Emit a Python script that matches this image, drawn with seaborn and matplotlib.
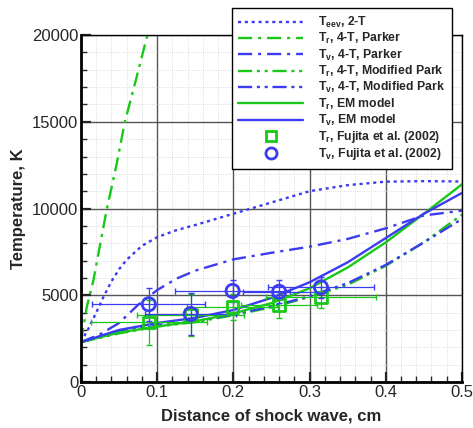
import numpy as np
import pandas as pd
import seaborn as sns
import matplotlib.pyplot as plt
from matplotlib.lines import Line2D
from matplotlib.ticker import MultipleLocator, FormatStrFormatter

# curves (x in cm, T in K)
x_eev = [0, 0.01, 0.02, 0.03, 0.04, 0.05, 0.06, 0.08, 0.1, 0.125, 0.15, 0.2, 0.25, 0.3, 0.35, 0.4, 0.45, 0.5]
t_eev = [2300, 3100, 4000, 4950, 5800, 6500, 7050, 7850, 8350, 8750, 9050, 9700, 10350, 11000, 11350, 11550, 11580, 11560]

x_tr_parker = [0, 0.0075, 0.016, 0.0336, 0.047, 0.0576, 0.072, 0.086, 0.09]
t_tr_parker = [2300, 4300, 5800, 9900, 12600, 15000, 17400, 19800, 20400]

x_tv_parker = [0, 0.025, 0.05, 0.075, 0.1, 0.125, 0.15, 0.2, 0.25, 0.3, 0.35, 0.4, 0.45, 0.5]
t_tv_parker = [2300, 2750, 3400, 4450, 5300, 5950, 6420, 7070, 7450, 7800, 8250, 8860, 9600, 9880]

x_model = [0, 0.05, 0.1, 0.15, 0.2, 0.25, 0.3, 0.35, 0.4, 0.45, 0.5]
t_tr_mpark = [2300, 2800, 3200, 3450, 3850, 4300, 4900, 5600, 6700, 8050, 9650]
t_tv_mpark = [2300, 2900, 3250, 3500, 3900, 4350, 4950, 5700, 6750, 8050, 9400]
t_tr_em = [2300, 2850, 3200, 3500, 3950, 4550, 5400, 6600, 8050, 9700, 11400]
t_tv_em = [2300, 3000, 3400, 3700, 4150, 4850, 5750, 6900, 8300, 9700, 10900]

# Fujita et al. (2002) measurements
x_exp = [0.089, 0.144, 0.199, 0.26, 0.315]
tr_exp = [3440, 3860, 4340, 4440, 4880]
tr_xerr = [0.076, 0.07, 0.06, 0.05, 0.072]
tr_yerr = [1280, 1200, 760, 770, 600]
tv_exp = [4480, 3920, 5250, 5200, 5460]
tv_xerr = [0.074, 0.06, 0.075, 0.047, 0.07]
tv_yerr = [950, 1200, 650, 670, 600]

blue = "#3b3bf2"
green = "#19c819"

sns.set_style("white")
plt.rcParams['font.family'] = ['Liberation Sans', 'DejaVu Sans']
plt.rcParams['mathtext.default'] = 'regular'

fig = plt.figure(figsize=(4.73, 4.28), dpi=100)
ax = fig.add_axes([0.1712, 0.1075, 0.8055, 0.8105])

lw = 1.7
dot = (0, (1.3, 1.6))
dashdot = (0, (6, 2.5, 1.3, 2.5))
dashdotdot = (0, (6, 2, 1.3, 2, 1.3, 2))
sns.lineplot(x=x_eev, y=t_eev, ax=ax, color=blue, lw=lw, linestyle=dot)
sns.lineplot(x=x_tr_parker, y=t_tr_parker, ax=ax, color=green, lw=lw, linestyle=dashdot)
sns.lineplot(x=x_tv_parker, y=t_tv_parker, ax=ax, color=blue, lw=lw, linestyle=dashdot)
sns.lineplot(x=x_model, y=t_tr_mpark, ax=ax, color=green, lw=lw, linestyle=dashdotdot)
sns.lineplot(x=x_model, y=t_tv_mpark, ax=ax, color=blue, lw=lw, linestyle=dashdotdot)
sns.lineplot(x=x_model, y=t_tr_em, ax=ax, color=green, lw=lw)
sns.lineplot(x=x_model, y=t_tv_em, ax=ax, color=blue, lw=lw)

ax.errorbar(x_exp, tr_exp, xerr=tr_xerr, yerr=tr_yerr, fmt='none', ecolor=green, elinewidth=0.9, capsize=2.5, zorder=4)
ax.errorbar(x_exp, tv_exp, xerr=tv_xerr, yerr=tv_yerr, fmt='none', ecolor=blue, elinewidth=0.9, capsize=2.5, zorder=4)
sns.scatterplot(x=x_exp, y=tr_exp, ax=ax, marker='s', s=70, facecolor='none', edgecolor=green, linewidth=2, zorder=5)
sns.scatterplot(x=x_exp, y=tv_exp, ax=ax, marker='o', s=90, facecolor='none', edgecolor=blue, linewidth=2, zorder=5)

ax.set_xlim(0, 0.5)
ax.set_ylim(0, 20000)
ax.xaxis.set_major_locator(MultipleLocator(0.1))
ax.xaxis.set_minor_locator(MultipleLocator(0.02))
ax.xaxis.set_major_formatter(FormatStrFormatter('%g'))
ax.yaxis.set_major_locator(MultipleLocator(5000))
ax.yaxis.set_minor_locator(MultipleLocator(1000))
ax.yaxis.set_major_formatter(FormatStrFormatter('%d'))

ax.grid(which='major', color='#555555', lw=1.0)
ax.grid(which='minor', color='#d0d0d0', lw=0.6, linestyle=':')
ax.tick_params(which='major', direction='in', length=7, width=1.6, labelsize=12, left=True, bottom=True, top=False, right=False, pad=2)
ax.tick_params(which='minor', direction='in', length=4, width=1.0, left=True, bottom=True, top=False, right=False)
for side in ['left', 'bottom']:
    ax.spines[side].set_linewidth(2.0)
    ax.spines[side].set_color('black')
for side in ['top', 'right']:
    ax.spines[side].set_linewidth(1.0)
    ax.spines[side].set_color('black')
# raise the y "0" a little so it clears the x "0"
ax.yaxis.get_major_ticks()[0].label1.set_va('bottom')

ax.set_xlabel('Distance of shock wave, cm', fontsize=12, fontweight='bold', labelpad=6)
ax.set_ylabel('Temperature, K', fontsize=12, fontweight='bold', labelpad=4)

labels = [r'T$_{eev}$, 2-T', r'T$_{r}$, 4-T, Parker', r'T$_{v}$, 4-T, Parker',
          r'T$_{r}$, 4-T, Modified Park', r'T$_{v}$, 4-T, Modified Park',
          r'T$_{r}$, EM model', r'T$_{v}$, EM model',
          r'T$_{r}$, Fujita et al. (2002)', r'T$_{v}$, Fujita et al. (2002)']
handles = [
    Line2D([], [], color=blue, lw=lw, linestyle=dot),
    Line2D([], [], color=green, lw=lw, linestyle=dashdot),
    Line2D([], [], color=blue, lw=lw, linestyle=dashdot),
    Line2D([], [], color=green, lw=lw, linestyle=dashdotdot),
    Line2D([], [], color=blue, lw=lw, linestyle=dashdotdot),
    Line2D([], [], color=green, lw=lw),
    Line2D([], [], color=blue, lw=lw),
    Line2D([], [], color=green, marker='s', markersize=7, markerfacecolor='none', markeredgewidth=2, linestyle='none'),
    Line2D([], [], color=blue, marker='o', markersize=8, markerfacecolor='none', markeredgewidth=2, linestyle='none'),
]
leg = fig.legend(handles, labels, loc='upper left', bbox_to_anchor=(0.49, 0.981), frameon=True, fancybox=False,
                 prop={'weight': 'bold', 'size': 8.8}, handlelength=5.3, handletextpad=1.2, labelspacing=0.1,
                 borderpad=0.55, borderaxespad=0)
leg.get_frame().set_edgecolor('black')
leg.get_frame().set_linewidth(1.0)
leg.get_frame().set_alpha(1)

fig.savefig('out.png', dpi=100)
